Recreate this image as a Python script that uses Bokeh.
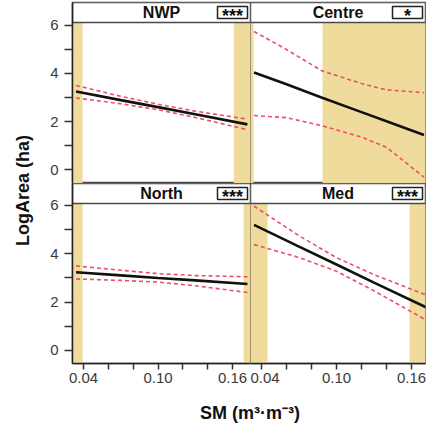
import numpy as np
from bokeh.plotting import figure
from bokeh.layouts import row, column
from bokeh.models import Range1d, FixedTicker, BoxAnnotation, PrintfTickFormatter
from bokeh.core.properties import value
from bokeh.embed import file_html
from bokeh.resources import INLINE

FONT = "Liberation Sans"

# ---- data ----
regions = ["NWP", "Centre", "North", "Med"]
signif = ["***", "*", "***", "***"]

nwp_sm = [0.034, 0.070, 0.100, 0.130, 0.172]
nwp_fit = [3.25, 2.89, 2.60, 2.30, 1.88]
nwp_upper = [3.50, 3.05, 2.72, 2.43, 2.10]
nwp_lower = [2.98, 2.74, 2.49, 2.17, 1.66]
nwp_bands = [(0.030, 0.0392), (0.161, 0.176)]

centre_sm = [0.034, 0.060, 0.088, 0.120, 0.140, 0.170]
centre_fit = [4.04, 3.55, 3.00, 2.39, 2.01, 1.44]
centre_upper = [5.75, 5.00, 4.12, 3.58, 3.32, 3.20]
centre_lower = [2.25, 2.16, 1.83, 1.35, 0.93, -0.32]
centre_bands = [(0.030, 0.0336), (0.0888, 0.176)]

north_sm = [0.034, 0.070, 0.100, 0.130, 0.172]
north_fit = [3.24, 3.11, 3.00, 2.90, 2.75]
north_upper = [3.50, 3.32, 3.18, 3.10, 3.05]
north_lower = [2.96, 2.90, 2.83, 2.68, 2.40]
north_bands = [(0.030, 0.0392), (0.169, 0.176)]

med_sm = [0.034, 0.070, 0.100, 0.130, 0.172]
med_fit = [5.20, 4.30, 3.56, 2.81, 1.78]
med_upper = [5.97, 4.75, 3.84, 3.14, 2.29]
med_lower = [4.38, 3.85, 3.28, 2.47, 1.25]
med_bands = [(0.030, 0.0448), (0.1584, 0.176)]

y_ticks = [0, 2, 4, 6]
y_minor = [1, 3, 5]
x_ticks = [0.04, 0.10, 0.16]
x_minor = [0.06, 0.08, 0.12, 0.14]

# ---- styling / layout ----
BAND = "#EFDC9C"
CI = "#EC4F66"
FIT = "#111111"
OUT = "#4a4a4a"
YLAB_W = 38
AX_L, AX_B = 34, 30
FW_L, FW_R = 178, 175
FH_TOP, FH_BOT = 181, 180
TOP_PAD = 2
STRIP = 20

X_RANGE_L = (0.03114, 0.17449)
X_RANGE_R = (0.0312, 0.1712)
Y_RANGE_TOP = (-0.583, 6.958)
Y_RANGE_BOT = (-0.538, 6.910)


def make_panel(name, sig, sm, fit, up, lo, bands, left_col, bottom_row):
    fw = FW_L if left_col else FW_R
    fh = FH_BOT if bottom_row else FH_TOP
    x0, x1 = X_RANGE_L if left_col else X_RANGE_R
    y0, y1 = Y_RANGE_BOT if bottom_row else Y_RANGE_TOP
    px_x = (x1 - x0) / fw   # data units per pixel
    px_y = (y1 - y0) / fh
    strip_bot = y1 - STRIP * px_y

    p = figure(width=(AX_L if left_col else 0) + fw + (0 if left_col else 1),
               height=fh + (AX_B if bottom_row else TOP_PAD),
               x_range=Range1d(x0, x1), y_range=Range1d(y0, y1),
               output_backend="svg", title=None,
               toolbar_location=None, tools="",
               min_border_left=AX_L if left_col else 0,
               min_border_right=0 if left_col else 1,
               min_border_top=0 if bottom_row else TOP_PAD,
               min_border_bottom=AX_B if bottom_row else 0,
               x_axis_location="below" if bottom_row else None,
               y_axis_location="left" if left_col else None)
    p.grid.visible = False
    p.outline_line_color = OUT
    p.outline_line_width = 1.5
    p.background_fill_color = "white"
    p.border_fill_color = "white"

    for (a, b) in bands:
        p.add_layout(BoxAnnotation(left=a, right=b, top=strip_bot, fill_color=BAND,
                                   fill_alpha=1.0, line_color=None, level="underlay"))
    p.line(sm, up, line_color=CI, line_width=1.6, line_dash="4 3")
    p.line(sm, lo, line_color=CI, line_width=1.6, line_dash="4 3")
    p.line(sm, fit, line_color=FIT, line_width=2.6)

    # strip header
    p.quad(left=[x0], right=[x1], bottom=[strip_bot], top=[y1],
           fill_color="white", line_color=OUT, line_width=1.5)
    p.text(x=[(x0 + x1) / 2], y=[strip_bot + 10.5 * px_y], text=[name],
           text_font=value(FONT), text_font_style="bold", text_font_size="16px",
           text_align="center", text_baseline="middle", text_color="#111111")
    p.quad(left=[x1 - 33 * px_x], right=[x1 - 3 * px_x],
           bottom=[strip_bot + 4 * px_y], top=[strip_bot + 16 * px_y],
           fill_color="white", line_color="#222222", line_width=1.5)
    p.text(x=[x1 - 18 * px_x], y=[strip_bot + 7 * px_y], text=[sig],
           text_font=value(FONT), text_font_style="bold", text_font_size="18px",
           text_align="center", text_baseline="middle", text_color="#111111")

    for ax in (p.yaxis if left_col else []):
        ax.ticker = FixedTicker(ticks=y_ticks, minor_ticks=y_minor)
    for ax in (p.xaxis if bottom_row else []):
        ax.ticker = FixedTicker(ticks=x_ticks, minor_ticks=x_minor)
        ax.formatter = PrintfTickFormatter(format="%.2f")
    axes = list(p.yaxis if left_col else []) + list(p.xaxis if bottom_row else [])
    for ax in axes:
        ax.axis_line_color = "#222222"
        ax.axis_line_width = 1.5
        ax.major_tick_line_color = "#333333"
        ax.minor_tick_line_color = "#333333"
        ax.major_tick_line_width = 1.5
        ax.minor_tick_line_width = 1.5
        ax.major_tick_in = 0
        ax.minor_tick_in = 0
        ax.major_label_text_font = FONT
        ax.major_label_text_font_size = "15px"
        ax.major_label_text_color = "#3a3a3a"
    for ax in (p.yaxis if left_col else []):
        ax.major_tick_out = 8
        ax.minor_tick_out = 8
        ax.major_label_standoff = 6
    for ax in (p.xaxis if bottom_row else []):
        ax.major_tick_out = 6
        ax.minor_tick_out = 6
        ax.major_label_standoff = 3
    return p


p1 = make_panel(regions[0], signif[0], nwp_sm, nwp_fit, nwp_upper, nwp_lower, nwp_bands, True, False)
p2 = make_panel(regions[1], signif[1], centre_sm, centre_fit, centre_upper, centre_lower, centre_bands, False, False)
p3 = make_panel(regions[2], signif[2], north_sm, north_fit, north_upper, north_lower, north_bands, True, True)
p4 = make_panel(regions[3], signif[3], med_sm, med_fit, med_upper, med_lower, med_bands, False, True)

frame_h = FH_TOP + FH_BOT
ylab = figure(width=YLAB_W, height=TOP_PAD + frame_h + AX_B,
              x_range=Range1d(0, YLAB_W), y_range=Range1d(0, frame_h),
              output_backend="svg", toolbar_location=None, tools="", title=None,
              min_border_left=0, min_border_right=0,
              min_border_top=TOP_PAD, min_border_bottom=AX_B,
              x_axis_location=None, y_axis_location=None)
ylab.grid.visible = False
ylab.outline_line_color = None
ylab.border_fill_color = "white"
ylab.text(x=[22], y=[frame_h - (190 - TOP_PAD)], text=["LogArea (ha)"], angle=np.pi / 2,
          text_font=value(FONT), text_font_style="bold", text_font_size="18px",
          text_align="center", text_baseline="middle", text_color="#111111")

frame_w = FW_L + FW_R
xlab = figure(width=YLAB_W + AX_L + frame_w + 1, height=32,
              x_range=Range1d(0, frame_w), y_range=Range1d(0, 32),
              output_backend="svg", toolbar_location=None, tools="", title=None,
              min_border_left=YLAB_W + AX_L, min_border_right=1,
              min_border_top=0, min_border_bottom=0,
              x_axis_location=None, y_axis_location=None)
xlab.grid.visible = False
xlab.outline_line_color = None
xlab.border_fill_color = "white"
xlab.text(x=[frame_w / 2 + 1], y=[13], text=["SM (m³·m⁻³)"],
          text_font=value(FONT), text_font_style="bold", text_font_size="18px",
          text_align="center", text_baseline="middle", text_color="#111111")

layout = column(
    row(ylab, column(row(p1, p2), row(p3, p4))),
    xlab,
)

open("out.html", "w").write(file_html(layout, INLINE))
